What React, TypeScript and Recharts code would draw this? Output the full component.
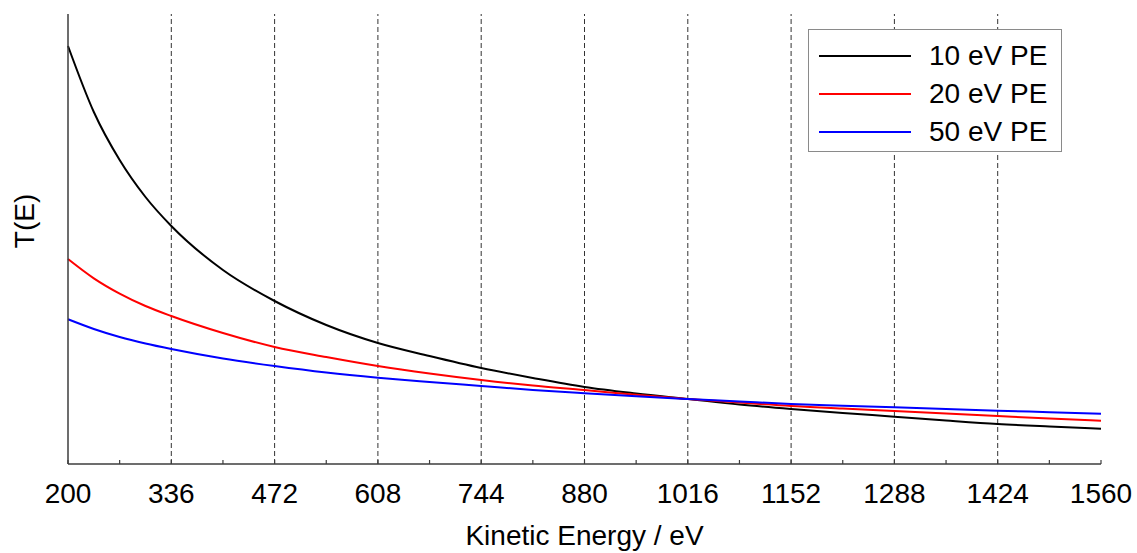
import React from 'react'
import {
  LineChart,
  Line,
  XAxis,
  YAxis,
  Legend,
  ReferenceLine
} from 'recharts'

// kinetic energy samples (eV)
const energy = [200, 234, 268, 302, 336, 404, 472, 540, 608, 676, 744, 812, 880, 948, 1016, 1084, 1152, 1220, 1288, 1356, 1424, 1492, 1560]

// transmission (arbitrary units)
const pe10 = [418, 352, 304, 267, 238, 194, 163, 139, 121, 108, 96, 86, 77, 70.5, 65, 59.5, 55, 51, 47.3, 43.5, 40, 37.5, 35.3]
const pe20 = [205, 185.7, 170.4, 158, 148, 131, 117, 107, 98, 90.5, 84, 78.5, 74, 69.2, 65, 61.5, 58, 55.5, 53, 50.5, 48, 45.5, 43.3]
const pe50 = [144.7, 135, 127, 120.5, 115, 105.5, 98, 91.5, 86.3, 82, 78, 74, 70.7, 67.7, 65, 62.5, 60, 58.3, 56.7, 55, 53.3, 51.8, 50.3]

const majorTicks = [200, 336, 472, 608, 744, 880, 1016, 1152, 1288, 1424, 1560]
const allTicks = [200, 268, 336, 404, 472, 540, 608, 676, 744, 812, 880, 948, 1016, 1084, 1152, 1220, 1288, 1356, 1424, 1492, 1560]

const series = [
  { key: 'pe10', name: '10 eV PE', color: '#000000' },
  { key: 'pe20', name: '20 eV PE', color: '#ff0000' },
  { key: 'pe50', name: '50 eV PE', color: '#0000ff' }
]

const data = energy.map((e, i) => ({ e, pe10: pe10[i], pe20: pe20[i], pe50: pe50[i] }))

const FONT = '"Liberation Sans", Arial, sans-serif'
const FRAME = '#3c3c3c'

const BottomTick = ({ x, y, payload }: any) => {
  const major = majorTicks.includes(payload.value)
  return (
    <g>
      <line x1={x} x2={x} y1={y} y2={y - 4} stroke={FRAME} strokeWidth={1.2} />
      {major && (
        <text x={x} y={y + 39} textAnchor="middle" fontSize={28} fontFamily={FONT} fill="#000">
          {payload.value}
        </text>
      )}
    </g>
  )
}

const TopTick = ({ x, y }: any) => (
  <line x1={x} x2={x} y1={y} y2={y + 4} stroke={FRAME} strokeWidth={1.2} />
)

const LegendBox = () => (
  <div
    style={{
      border: '1.5px solid #8a8a8a',
      background: '#fff',
      width: 254,
      height: 123,
      boxSizing: 'border-box',
      padding: '7px 0 0 10px',
      fontFamily: FONT,
      fontSize: 28
    }}
  >
    {series.map(s => (
      <div key={s.key} style={{ display: 'flex', alignItems: 'center', height: 38 }}>
        <svg width={92} height={4} style={{ marginRight: 18 }}>
          <line x1={0} x2={92} y1={2} y2={2} stroke={s.color} strokeWidth={2} />
        </svg>
        <span style={{ lineHeight: '38px', color: '#000' }}>{s.name}</span>
      </div>
    ))}
  </div>
)

export default function App() {
  return (
    <div style={{ position: 'absolute', left: 0, top: 0, width: 1137, height: 553, background: '#fff' }}>
      <LineChart
        width={1137}
        height={553}
        data={data}
        margin={{ top: 14, right: 36, bottom: 0, left: 0 }}
      >
        <XAxis
          dataKey="e"
          type="number"
          domain={[200, 1560]}
          ticks={allTicks}
          interval={0}
          height={89}
          tickSize={0}
          tickMargin={0}
          tickLine={false}
          tick={<BottomTick />}
          axisLine={{ stroke: FRAME, strokeWidth: 1.5 }}
          label={{ value: 'Kinetic Energy / eV', position: 'insideBottom', offset: 8, fontSize: 28, fontFamily: FONT, fill: '#000' }}
        />
        <XAxis
          xAxisId="top"
          dataKey="e"
          type="number"
          orientation="top"
          domain={[200, 1560]}
          ticks={allTicks}
          interval={0}
          height={0}
          tickSize={0}
          tickMargin={0}
          tickLine={false}
          tick={<TopTick />}
          axisLine={{ stroke: FRAME, strokeWidth: 1.5 }}
        />
        <YAxis
          domain={[0, 450]}
          width={68}
          tick={false}
          tickLine={false}
          axisLine={{ stroke: FRAME, strokeWidth: 1.5 }}
          label={{
            content: ({ viewBox }: any) => (
              <text
                x={24}
                y={viewBox.y + viewBox.height / 2 - 18}
                transform={`rotate(-90, 24, ${viewBox.y + viewBox.height / 2 - 18})`}
                textAnchor="middle"
                dominantBaseline="central"
                fontSize={28}
                fontFamily={FONT}
                fill="#000"
              >
                T(E)
              </text>
            )
          }}
        />
        <YAxis
          yAxisId="right"
          orientation="right"
          domain={[0, 450]}
          width={0}
          tick={false}
          tickLine={false}
          axisLine={{ stroke: FRAME, strokeWidth: 1.5 }}
        />
        {majorTicks.slice(1, -1).map(t => (
          <ReferenceLine key={t} x={t} stroke="#333" strokeWidth={1} strokeDasharray="5 3" />
        ))}
        {series.map(s => (
          <Line
            key={s.key}
            type="monotone"
            dataKey={s.key}
            name={s.name}
            stroke={s.color}
            strokeWidth={2}
            dot={false}
            isAnimationActive={false}
          />
        ))}
        <Legend
          layout="vertical"
          align="center"
          verticalAlign="middle"
          content={<LegendBox />}
          wrapperStyle={{ left: 808, top: 29, width: 256 }}
        />
      </LineChart>
    </div>
  )
}
